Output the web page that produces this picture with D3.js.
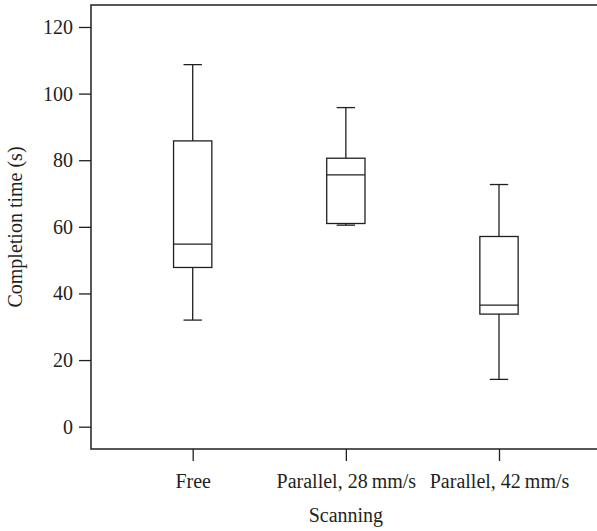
<!DOCTYPE html>
<html>
<head>
<meta charset="utf-8">
<script src="https://cdn.jsdelivr.net/npm/d3@7"></script>
<style>
  body { margin: 0; background: #fff; }
  text { font-family: "Liberation Serif", "DejaVu Serif", serif; fill: #231f20; }
</style>
</head>
<body>
<div id="main"></div>
<script>
const W = 597, H = 531;
const margin = {left: 91, top: 5, right: 0, bottom: 82};
const FS = "20px";

// scanning conditions
const categories = ["Free", "Parallel, 28\u2009mm/s", "Parallel, 42\u2009mm/s"];
// five-number summaries (s)
const whiskerLow  = [32, 60.5, 14.2];
const quartile1   = [47.8, 61, 33.8];
const medians     = [54.8, 75.6, 36.5];
const quartile3   = [85.8, 80.6, 57.1];
const whiskerHigh = [108.7, 95.8, 72.7];
const yTicks = [0, 20, 40, 60, 80, 100, 120];

const INK = "#231f20";

let svg = d3.select("#main").append("svg")
    .attr("width", W)
    .attr("height", H);

let y = d3.scaleLinear()
    .domain([-6.7, 126.6])
    .range([H - margin.bottom, margin.top]);

let x = d3.scalePoint()
    .domain(categories)
    .range([192.7, 499]);

const step = x.step();
const boxW = step * 0.25;
const capW = step * 0.12;

let rows = categories.map((c, i) => ({
    cat: c,
    lo: whiskerLow[i], q1: quartile1[i], med: medians[i],
    q3: quartile3[i], hi: whiskerHigh[i]
}));

// axes
let yAxis = svg.append("g")
    .attr("transform", `translate(${margin.left},0)`)
    .call(d3.axisLeft(y).tickValues(yTicks).tickSize(12).tickPadding(6));
yAxis.select(".domain").remove();
yAxis.selectAll("line").attr("stroke", INK).attr("stroke-width", 1.3);
yAxis.selectAll("text").style("font-size", FS).attr("fill", INK);

let xAxis = svg.append("g")
    .attr("transform", `translate(0,${H - margin.bottom})`)
    .call(d3.axisBottom(x).tickSize(12).tickPadding(13));
xAxis.select(".domain").remove();
xAxis.selectAll("line").attr("stroke", INK).attr("stroke-width", 1.3);
xAxis.selectAll("text").style("font-size", FS).attr("fill", INK);

// frame (top, left, bottom; right side runs off the image)
let frame = svg.append("g")
    .attr("fill", "none")
    .attr("stroke", INK)
    .attr("stroke-width", 1.5);
frame.append("path")
    .attr("d", `M${W},${margin.top}H${margin.left}V${H - margin.bottom}H${W}`);

// boxes
let boxes = svg.append("g")
    .attr("stroke", INK)
    .attr("stroke-width", 1.3)
    .attr("fill", "none")
    .selectAll("g.box")
    .data(rows)
    .enter()
    .append("g")
    .attr("class", "box");

boxes.append("line")
    .attr("x1", d => x(d.cat)).attr("x2", d => x(d.cat))
    .attr("y1", d => y(d.hi)).attr("y2", d => y(d.q3));
boxes.append("line")
    .attr("x1", d => x(d.cat)).attr("x2", d => x(d.cat))
    .attr("y1", d => y(d.q1)).attr("y2", d => y(d.lo));
boxes.append("line")
    .attr("x1", d => x(d.cat) - capW / 2).attr("x2", d => x(d.cat) + capW / 2)
    .attr("y1", d => y(d.hi)).attr("y2", d => y(d.hi));
boxes.append("line")
    .attr("x1", d => x(d.cat) - capW / 2).attr("x2", d => x(d.cat) + capW / 2)
    .attr("y1", d => y(d.lo)).attr("y2", d => y(d.lo));
boxes.append("rect")
    .attr("x", d => x(d.cat) - boxW / 2)
    .attr("width", boxW)
    .attr("y", d => y(d.q3))
    .attr("height", d => y(d.q1) - y(d.q3))
    .attr("fill", "#fff");
boxes.append("line")
    .attr("x1", d => x(d.cat) - boxW / 2).attr("x2", d => x(d.cat) + boxW / 2)
    .attr("y1", d => y(d.med)).attr("y2", d => y(d.med));

// axis titles
svg.append("text")
    .attr("x", x(categories[1]))
    .attr("y", 522)
    .attr("text-anchor", "middle")
    .style("font-size", FS)
    .text("Scanning");

svg.append("text")
    .attr("transform", `translate(22,${(margin.top + H - margin.bottom) / 2}) rotate(-90)`)
    .attr("text-anchor", "middle")
    .style("font-size", FS)
    .text("Completion time (s)");
</script>
</body>
</html>
